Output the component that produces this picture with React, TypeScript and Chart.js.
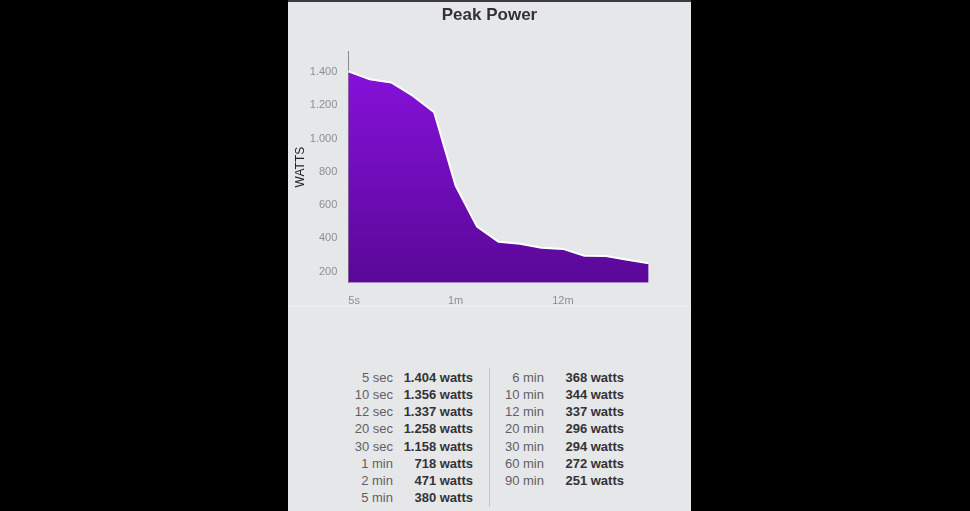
import React, { useEffect, useRef } from "react";
import { Chart, registerables } from "chart.js";

Chart.register(...registerables);

const durations = ["5s", "10s", "12s", "20s", "30s", "1m", "2m", "5m", "6m", "10m", "12m", "20m", "30m", "60m", "90m"];
const shownLabels = ["5s", "1m", "12m"];
const watts = [1404, 1356, 1337, 1258, 1158, 718, 471, 380, 368, 344, 337, 296, 294, 272, 251];
const yTicks = [200, 400, 600, 800, 1000, 1200, 1400];
const leftLabels = ["5 sec", "10 sec", "12 sec", "20 sec", "30 sec", "1 min", "2 min", "5 min"];
const leftValues = [1404, 1356, 1337, 1258, 1158, 718, 471, 380];
const rightLabels = ["6 min", "10 min", "12 min", "20 min", "30 min", "60 min", "90 min"];
const rightValues = [368, 344, 337, 296, 294, 272, 251];

const fmt = (v: number) => String(v).replace(/\B(?=(\d{3})+(?!\d))/g, ".");

const FONT = "'Liberation Sans', Arial, Helvetica, sans-serif";

function PowerChart() {
  const ref = useRef<HTMLCanvasElement | null>(null);
  useEffect(() => {
    const canvas = ref.current;
    if (!canvas) return;
    const ctx = canvas.getContext("2d")!;
    const chart = new Chart(ctx, {
      type: "line",
      data: {
        labels: durations,
        datasets: [
          {
            data: watts,
            borderColor: "#ffffff",
            borderWidth: 2,
            pointRadius: 0,
            tension: 0,
            fill: "start",
            yAxisID: "y",
            backgroundColor: (c: any) => {
              const area = c.chart.chartArea;
              if (!area) return "#7a10c8";
              const g = c.chart.ctx.createLinearGradient(0, area.top, 0, area.bottom);
              g.addColorStop(0, "#8a12e0");
              g.addColorStop(1, "#5a0898");
              return g;
            },
          },
        ],
      },
      options: {
        animation: false,
        responsive: false,
        maintainAspectRatio: false,
        layout: { padding: { left: 0, right: 0, top: 0, bottom: 0 } },
        plugins: {
          legend: { display: false },
          tooltip: { enabled: false },
          title: {
            display: true,
            text: "Peak Power",
            color: "#333333",
            font: { family: FONT, size: 17, weight: "bold" },
            padding: { top: 5, bottom: 26 },
          },
        },
        scales: {
          x: {
            grid: { display: false, drawTicks: false },
            border: { display: false },
            ticks: {
              autoSkip: false,
              maxRotation: 0,
              align: "inner",
              padding: 12,
              color: "#8e8e93",
              font: { family: FONT, size: 11 },
              callback: (_v: any, i: number) => (shownLabels.includes(durations[i]) ? durations[i] : ""),
            },
            afterFit: (s: any) => {
              s.height = 24.3;
            },
          },
          y: {
            min: 134,
            max: 1524,
            grid: { display: false, drawTicks: false },
            border: { display: true, color: "#8a8a8e", width: 1 },
            afterBuildTicks: (s: any) => {
              s.ticks = yTicks.map((v) => ({ value: v }));
            },
            ticks: {
              padding: 11,
              color: "#8e8e93",
              font: { family: FONT, size: 11 },
              callback: (v: any) => fmt(Number(v)),
            },
            title: {
              display: true,
              text: "WATTS",
              color: "#1e1e1e",
              font: { family: FONT, size: 12 },
              padding: { top: 5, bottom: 0 },
            },
            afterFit: (s: any) => {
              s.width = 60.3;
            },
          },
          yRight: {
            position: "right",
            min: 134,
            max: 1524,
            grid: { display: false, drawTicks: false },
            border: { display: false },
            ticks: { display: false },
            afterFit: (s: any) => {
              s.width = 42.3;
            },
          },
        },
      },
    } as any);
    return () => chart.destroy();
  }, []);
  return <canvas ref={ref} width={403} height={307} style={{ position: "absolute", left: 0, top: 0, width: 403, height: 307 }} />;
}

const ROW_TOP = 368.7;
const ROW_H = 17.2;

function Column({ labels, values, labelRight, valueRight }: { labels: string[]; values: number[]; labelRight: number; valueRight: number }) {
  return (
    <>
      {labels.map((l, i) => (
        <div
          key={"l" + i}
          style={{
            position: "absolute",
            left: labelRight - 70,
            width: 70,
            top: ROW_TOP + i * ROW_H,
            height: ROW_H,
            lineHeight: ROW_H + "px",
            textAlign: "right",
            fontSize: 13,
            color: "#5f5f63",
            fontFamily: FONT,
            whiteSpace: "nowrap",
          }}
        >
          {l}
        </div>
      ))}
      {values.map((v, i) => (
        <div
          key={"v" + i}
          style={{
            position: "absolute",
            left: valueRight - 80,
            width: 80,
            top: ROW_TOP + i * ROW_H,
            height: ROW_H,
            lineHeight: ROW_H + "px",
            textAlign: "right",
            fontSize: 13,
            fontWeight: "bold",
            color: "#333336",
            fontFamily: FONT,
            whiteSpace: "nowrap",
          }}
        >
          {fmt(v) + " watts"}
        </div>
      ))}
    </>
  );
}

export default function App() {
  return (
    <div style={{ position: "fixed", left: 0, top: 0, width: 970, height: 511, background: "#000000", overflow: "hidden" }}>
      <div style={{ position: "absolute", left: 288, top: 0, width: 403, height: 511, background: "#e6e7e9" }}>
        <div style={{ position: "absolute", left: 0, top: 0, width: 403, height: 2, background: "#3c3c40" }} />
        <PowerChart />
        <div style={{ position: "absolute", left: 0, top: 306, width: 403, height: 1, background: "#eeeff1" }} />
        <Column labels={leftLabels} values={leftValues} labelRight={105} valueRight={185} />
        <div style={{ position: "absolute", left: 201, top: 368, width: 1, height: 139, background: "#c4c5c8" }} />
        <Column labels={rightLabels} values={rightValues} labelRight={256} valueRight={336} />
      </div>
    </div>
  );
}
